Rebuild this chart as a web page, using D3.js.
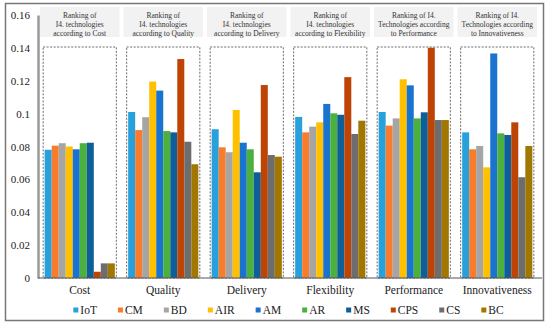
<!DOCTYPE html>
<html>
<head>
<meta charset="utf-8">
<script src="https://cdn.jsdelivr.net/npm/d3@7"></script>
<style>
  html, body { margin: 0; padding: 0; background: #fff; }
  svg { display: block; }
</style>
</head>
<body>
<div id="chart"></div>
<script>
// Criteria along the x axis
const categories = ["Cost", "Quality", "Delivery", "Flexibility", "Performance", "Innovativeness"];

// Panel titles, one array of lines per criterion
const panelTitles = [
    ["Ranking of", "I4. technologies", "according to Cost"],
    ["Ranking of", "I4. technologies", "according to Quality"],
    ["Ranking of", "I4. technologies", "according to Delivery"],
    ["Ranking of", "I4. technologies", "according to Flexibility"],
    ["Ranking of I4.", "Technologies according", "to Performance"],
    ["Ranking of I4.", "Technologies according", "to Innovativeness"],
];

// Technologies (series)
const series = ["IoT", "CM", "BD", "AIR", "AM", "AR", "MS", "CPS", "CS", "BC"];

// Weights per technology, in the order of categories
const iotValues = [0.078, 0.101, 0.0905, 0.098, 0.101, 0.0886];
const cmValues = [0.0805, 0.090, 0.0795, 0.0886, 0.0927, 0.0783];
const bdValues = [0.082, 0.0978, 0.0765, 0.0921, 0.0971, 0.0803];
const airValues = [0.080, 0.1195, 0.1022, 0.0947, 0.1209, 0.0673];
const amValues = [0.0783, 0.114, 0.0823, 0.1059, 0.1172, 0.1366];
const arValues = [0.082, 0.0894, 0.0783, 0.1002, 0.0971, 0.088];
const msValues = [0.0823, 0.0886, 0.0643, 0.0993, 0.1008, 0.087];
const cpsValues = [0.0038, 0.1332, 0.1174, 0.1222, 0.1401, 0.0947];
const csValues = [0.0089, 0.0829, 0.0748, 0.0876, 0.0961, 0.0613];
const bcValues = [0.0089, 0.0692, 0.0738, 0.0957, 0.0961, 0.0803];

const yTicks = [0, 0.02, 0.04, 0.06, 0.08, 0.1, 0.12, 0.14, 0.16];

const valuesBySeries = [iotValues, cmValues, bdValues, airValues, amValues,
    arValues, msValues, cpsValues, csValues, bcValues];

const colors = ["#28a0dc", "#f97c2c", "#a5a5a5", "#ffc000", "#1a73cf",
    "#4cb03f", "#0d5e99", "#bd4405", "#6d6d6d", "#a17700"];

const fontFamily = "'Liberation Serif', 'Times New Roman', 'DejaVu Serif', serif";

const width = 550;
const height = 327;
const margin = { top: 15, right: 11, bottom: 49, left: 38 };

// Long format rows: one per bar
const rows = [];
categories.forEach((c, ci) => {
    series.forEach((s, si) => {
        rows.push({ category: c, series: s, value: valuesBySeries[si][ci] });
    });
});

const svg = d3.select("#chart")
    .append("svg")
    .attr("width", width)
    .attr("height", height)
    .attr("font-family", fontFamily);

// Outer frame
svg.append("rect")
    .attr("x", 5.5).attr("y", 3.5)
    .attr("width", 538).attr("height", 317)
    .attr("fill", "none")
    .attr("stroke", "#777")
    .attr("stroke-width", 1.5);

const x0 = d3.scaleBand()
    .domain(categories)
    .range([margin.left, width - margin.right])
    .padding(0);

const x1 = d3.scaleBand()
    .domain(series)
    .range([0, x0.bandwidth()])
    .paddingInner(0)
    .paddingOuter(0.95);

const y = d3.scaleLinear()
    .domain([0, 0.16])
    .range([height - margin.bottom, margin.top]);

// Header boxes with panel titles
const panel = svg.append("g")
    .selectAll("g")
    .data(categories)
    .join("g")
    .attr("transform", (d) => `translate(${x0(d)},0)`);

panel.append("rect")
    .attr("x", 2)
    .attr("y", 7)
    .attr("width", x0.bandwidth() - 4)
    .attr("height", 30)
    .attr("fill", "#f2f2f2");

panel.append("text")
    .attr("text-anchor", "middle")
    .attr("font-size", 7.5)
    .attr("fill", "#333")
    .selectAll("tspan")
    .data((d, i) => panelTitles[i])
    .join("tspan")
    .attr("x", x0.bandwidth() / 2)
    .attr("y", (d, i) => 18 + i * 9)
    .text((d) => d);

// Dashed boxes around each group
panel.append("rect")
    .attr("x", x1.step() * x1.paddingOuter() - 1.5)
    .attr("y", 47)
    .attr("width", x1.step() * series.length + 3)
    .attr("height", y(0) - 47)
    .attr("fill", "none")
    .attr("stroke", "#444")
    .attr("stroke-width", 0.8)
    .attr("stroke-dasharray", "2,1.5");

// Bars
svg.append("g")
    .selectAll("rect")
    .data(rows)
    .join("rect")
    .attr("x", (d) => x0(d.category) + x1(d.series))
    .attr("y", (d) => y(d.value))
    .attr("width", x1.bandwidth())
    .attr("height", (d) => y(0) - y(d.value))
    .attr("fill", (d) => colors[series.indexOf(d.series)]);

// Y axis
const yAxis = svg.append("g")
    .attr("transform", `translate(${margin.left},0)`)
    .call(d3.axisLeft(y).tickValues(yTicks).tickSize(0).tickPadding(8)
        .tickFormat((d) => String(+d.toFixed(2))));

yAxis.attr("font-family", fontFamily).attr("font-size", 11);

yAxis.select(".domain")
    .attr("stroke", "#9a9a9a")
    .attr("stroke-width", 2.5);

yAxis.selectAll("text")
    .attr("fill", "#222");

// X axis line and category labels
svg.append("line")
    .attr("x1", margin.left)
    .attr("x2", width - margin.right + 3)
    .attr("y1", y(0))
    .attr("y2", y(0))
    .attr("stroke", "#555")
    .attr("stroke-width", 1);

svg.append("g")
    .selectAll("text")
    .data(categories)
    .join("text")
    .attr("x", (d) => x0(d) + x0.bandwidth() / 2)
    .attr("y", 294)
    .attr("text-anchor", "middle")
    .attr("font-size", 11.5)
    .attr("fill", "#222")
    .text((d) => d);

// Legend
const legend = svg.append("g");
const legendItems = legend.selectAll("g")
    .data(series)
    .join("g");

legendItems.append("rect")
    .attr("x", 0)
    .attr("y", -6.5)
    .attr("width", 5)
    .attr("height", 5)
    .attr("fill", (d, i) => colors[i]);

legendItems.append("text")
    .attr("x", 7)
    .attr("y", 0)
    .attr("font-size", 11.5)
    .attr("fill", "#222")
    .text((d) => d);

let offset = 0;
const itemGap = 21;
legendItems.each(function () {
    const w = this.querySelector("text").getComputedTextLength() + 7;
    d3.select(this).attr("transform", `translate(${offset},0)`);
    offset += w + itemGap;
});
const legendWidth = offset - itemGap;
const plotCenter = (margin.left + width - margin.right) / 2;
legend.attr("transform", `translate(${plotCenter - legendWidth / 2},314)`);
</script>
</body>
</html>
